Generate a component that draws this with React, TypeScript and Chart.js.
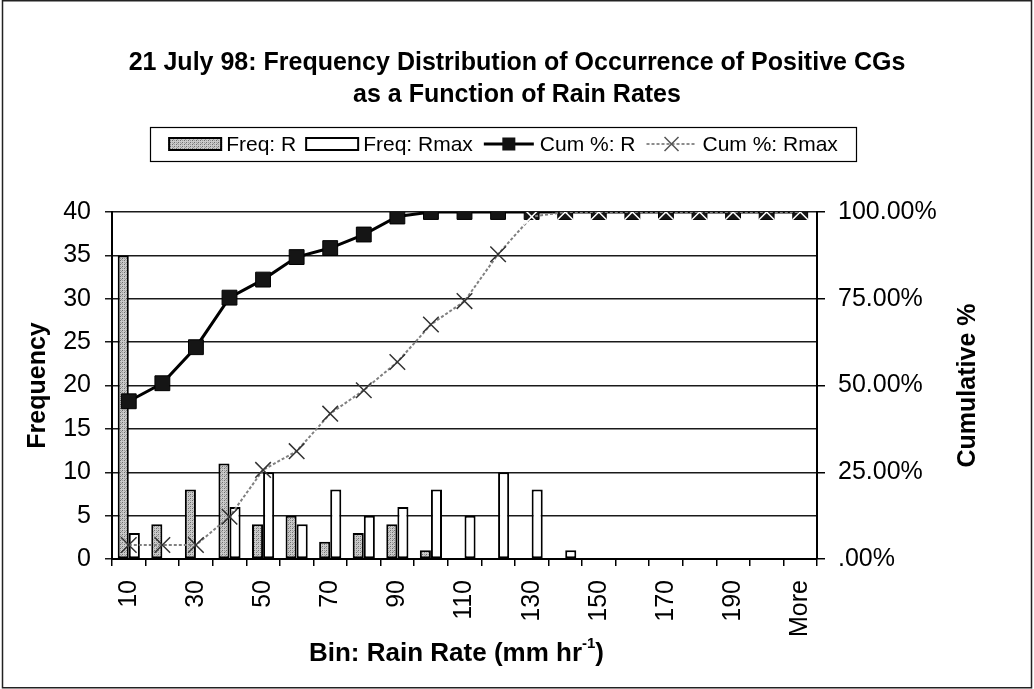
import React, { useEffect, useRef } from 'react';
import { Chart, registerables } from 'chart.js';

Chart.register(...registerables);

// ---------- data ----------
const categories = ['10', '20', '30', '40', '50', '60', '70', '80', '90', '100', '110', '120', '130', '140', '150', '160', '170', '180', '190', '200', 'More'];
const freqR = [35, 4, 8, 11, 4, 5, 2, 3, 4, 1, 0, 0, 0, 0, 0, 0, 0, 0, 0, 0, 0];
const freqRmax = [3, 0, 0, 6, 10, 4, 8, 5, 6, 8, 5, 10, 8, 1, 0, 0, 0, 0, 0, 0, 0];
const cumR = [45.45, 50.65, 61.04, 75.32, 80.52, 87.01, 89.61, 93.51, 98.7, 100, 100, 100, 100, 100, 100, 100, 100, 100, 100, 100, 100];
const cumRmax = [4.05, 4.05, 4.05, 12.16, 25.68, 31.08, 41.89, 48.65, 56.76, 67.57, 74.32, 87.84, 98.65, 100, 100, 100, 100, 100, 100, 100, 100];
const seriesLabels = ['Freq: R', 'Freq: Rmax', 'Cum %: R', 'Cum %: Rmax'];
const titleLines = ['21 July 98: Frequency Distribution of Occurrence of Positive CGs', 'as a Function of Rain Rates'];
const yTitle = 'Frequency';
const y1Title = 'Cumulative %';
const xTitleMain = 'Bin: Rain Rate (mm hr';
const xTitleSup = '-1';
const xTitleEnd = ')';

const FONT = '"Liberation Sans", Arial, Helvetica, sans-serif';
const W = 1034;
const H = 689;

function makePattern(): CanvasPattern | string {
  const c = document.createElement('canvas');
  c.width = 4;
  c.height = 4;
  const g = c.getContext('2d');
  if (!g) return '#b8b8b8';
  g.fillStyle = '#cacaca';
  g.fillRect(0, 0, 4, 4);
  g.fillStyle = '#6e6e6e';
  g.fillRect(0, 0, 1, 1);
  g.fillRect(2, 2, 1, 1);
  g.fillStyle = '#9a9a9a';
  g.fillRect(2, 0, 1, 1);
  g.fillRect(0, 2, 1, 1);
  g.fillRect(1, 3, 1, 1);
  const p = g.createPattern(c, 'repeat');
  return p || '#b8b8b8';
}

function drawSquare(ctx: CanvasRenderingContext2D, x: number, y: number, s: number) {
  ctx.fillStyle = '#111';
  ctx.fillRect(x - s / 2, y - s / 2, s, s);
}

function drawX(ctx: CanvasRenderingContext2D, x: number, y: number, r: number, color: string) {
  ctx.strokeStyle = color;
  ctx.lineWidth = 1.5;
  ctx.beginPath();
  ctx.moveTo(x - r, y - r);
  ctx.lineTo(x + r, y + r);
  ctx.moveTo(x - r, y + r);
  ctx.lineTo(x + r, y - r);
  ctx.stroke();
}

export default function App() {
  const ref = useRef<HTMLCanvasElement | null>(null);

  useEffect(() => {
    const canvas = ref.current;
    if (!canvas) return;
    const pattern = makePattern();

    const decor = {
      id: 'decor',
      beforeDraw(chart: any) {
        const ctx = chart.ctx as CanvasRenderingContext2D;
        ctx.save();
        ctx.fillStyle = '#fff';
        ctx.fillRect(0, 0, W, H);
        ctx.restore();
      },
      afterDraw(chart: any) {
        const ctx = chart.ctx as CanvasRenderingContext2D;
        const area = chart.chartArea;
        ctx.save();
        // outer border
        ctx.strokeStyle = '#222';
        ctx.lineWidth = 1.5;
        ctx.strokeRect(2.5, 0.75, W - 5, H - 2);

        // title
        ctx.fillStyle = '#000';
        ctx.textAlign = 'center';
        ctx.textBaseline = 'middle';
        ctx.font = `bold 25px ${FONT}`;
        ctx.fillText(titleLines[0], W / 2, 63);
        ctx.fillText(titleLines[1], W / 2, 95);

        // legend
        const lx0 = 150, lx1 = 856, ly0 = 127, ly1 = 161;
        const lyc = (ly0 + ly1) / 2;
        ctx.strokeStyle = '#000';
        ctx.lineWidth = 1.2;
        ctx.strokeRect(lx0 + 0.5, ly0 + 0.5, lx1 - lx0, ly1 - ly0);
        ctx.font = `21px ${FONT}`;
        ctx.textAlign = 'left';
        const sw = 54, gapT = 4, gapI = 9;
        let total = 0;
        seriesLabels.forEach((l, i) => {
          total += sw + gapT + ctx.measureText(l).width + (i < 3 ? gapI : 0);
        });
        let x = (lx0 + lx1) / 2 - total / 2;
        seriesLabels.forEach((l, i) => {
          if (i === 0 || i === 1) {
            ctx.fillStyle = i === 0 ? (pattern as any) : '#fff';
            ctx.fillRect(x, lyc - 7, sw, 14);
            ctx.strokeStyle = '#000';
            ctx.lineWidth = 2;
            ctx.strokeRect(x + 1, lyc - 6, sw - 2, 12);
          } else if (i === 2) {
            ctx.strokeStyle = '#000';
            ctx.lineWidth = 3;
            ctx.beginPath();
            ctx.moveTo(x + 2, lyc);
            ctx.lineTo(x + sw - 2, lyc);
            ctx.stroke();
            drawSquare(ctx, x + sw / 2, lyc, 13);
          } else {
            ctx.strokeStyle = '#8c8c8c';
            ctx.lineWidth = 2;
            ctx.setLineDash([3, 2]);
            ctx.beginPath();
            ctx.moveTo(x + 2, lyc);
            ctx.lineTo(x + sw - 2, lyc);
            ctx.stroke();
            ctx.setLineDash([]);
            drawX(ctx, x + sw / 2, lyc, 7, '#555');
          }
          x += sw + gapT;
          ctx.fillStyle = '#000';
          ctx.fillText(l, x, lyc + 1);
          x += ctx.measureText(l).width + gapI;
        });

        // axis titles
        ctx.font = `bold 25px ${FONT}`;
        ctx.textAlign = 'center';
        ctx.textBaseline = 'middle';
        const midY = (area.top + area.bottom) / 2;
        ctx.save();
        ctx.translate(38, midY);
        ctx.rotate(-Math.PI / 2);
        ctx.fillText(yTitle, 0, 0);
        ctx.restore();
        ctx.save();
        ctx.translate(968, midY);
        ctx.rotate(-Math.PI / 2);
        ctx.fillText(y1Title, 0, 0);
        ctx.restore();

        // x title with superscript
        const midX = (area.left + area.right) / 2 - 8;
        const ty = 652;
        ctx.font = `bold 26px ${FONT}`;
        const w1 = ctx.measureText(xTitleMain).width;
        const w3 = ctx.measureText(xTitleEnd).width;
        ctx.font = `bold 15px ${FONT}`;
        const w2 = ctx.measureText(xTitleSup).width;
        let tx = midX - (w1 + w2 + w3) / 2;
        ctx.textAlign = 'left';
        ctx.textBaseline = 'alphabetic';
        ctx.font = `bold 26px ${FONT}`;
        ctx.fillText(xTitleMain, tx, ty + 9);
        tx += w1;
        ctx.font = `bold 15px ${FONT}`;
        ctx.fillText(xTitleSup, tx, ty - 4);
        tx += w2;
        ctx.font = `bold 26px ${FONT}`;
        ctx.fillText(xTitleEnd, tx, ty + 9);

        ctx.restore();
      },
    };

    const tickFont = { family: FONT, size: 25 };

    const chart = new Chart(canvas, {
      type: 'bar',
      data: {
        labels: categories,
        datasets: [
          {
            type: 'line',
            label: seriesLabels[3],
            data: cumRmax,
            yAxisID: 'y1',
            order: 0,
            borderColor: '#808080',
            borderWidth: 2,
            borderDash: [3, 2],
            pointStyle: 'crossRot',
            pointRadius: 11,
            pointBorderWidth: 1.5,
            pointBorderColor: (c: any) => (c.dataIndex >= 12 ? '#ffffff' : '#333'),
            pointBackgroundColor: 'transparent',
            tension: 0,
          } as any,
          {
            type: 'line',
            label: seriesLabels[2],
            data: cumR,
            yAxisID: 'y1',
            order: 1,
            borderColor: '#000',
            borderWidth: 3,
            pointStyle: 'rect',
            pointRadius: 10.5,
            pointBorderWidth: 1,
            pointBorderColor: '#000',
            pointBackgroundColor: '#151515',
            tension: 0,
          } as any,
          {
            type: 'bar',
            label: seriesLabels[0],
            data: freqR,
            yAxisID: 'y',
            order: 2,
            backgroundColor: pattern as any,
            borderColor: '#000',
            borderWidth: 2,
            borderSkipped: false,
            categoryPercentage: 0.66,
            barPercentage: 1,
          } as any,
          {
            type: 'bar',
            label: seriesLabels[1],
            data: freqRmax,
            yAxisID: 'y',
            order: 3,
            backgroundColor: '#fff',
            borderColor: '#000',
            borderWidth: 2,
            borderSkipped: false,
            categoryPercentage: 0.66,
            barPercentage: 1,
          } as any,
        ],
      },
      options: {
        animation: false,
        responsive: false,
        devicePixelRatio: 1,
        layout: { padding: { top: 212, left: 0, right: 0, bottom: 0 } },
        plugins: {
          legend: { display: false },
          title: { display: false },
          tooltip: { enabled: false },
        },
        scales: {
          x: {
            type: 'category',
            offset: true,
            grid: { offset: true, drawOnChartArea: false, drawTicks: true, tickLength: 7, color: '#000', lineWidth: 1.5 },
            border: { display: true, color: '#000', width: 2 },
            ticks: {
              autoSkip: false,
              maxRotation: 90,
              minRotation: 90,
              padding: 14,
              color: '#000',
              font: tickFont,
              callback: (_v: any, i: number) => (i % 2 === 0 ? categories[i] : ''),
            },
            afterFit: (s: any) => {
              s.height = 130;
            },
          },
          y: {
            position: 'left',
            min: 0,
            max: 40,
            ticks: { stepSize: 5, padding: 14, color: '#000', font: tickFont },
            grid: { color: '#1a1a1a', lineWidth: 1.5, tickLength: 7, drawTicks: true },
            border: { display: true, color: '#000', width: 2 },
            afterFit: (s: any) => {
              s.width = 112;
            },
          },
          y1: {
            position: 'right',
            min: 0,
            max: 100,
            ticks: {
              stepSize: 25,
              padding: 13,
              color: '#000',
              font: tickFont,
              callback: (v: any) => (Number(v) === 0 ? '.00%' : Number(v).toFixed(2) + '%'),
            },
            grid: { drawOnChartArea: false, tickLength: 8, color: '#000', lineWidth: 1.5, drawTicks: true },
            border: { display: true, color: '#000', width: 2 },
            afterFit: (s: any) => {
              s.width = W - 817;
            },
          },
        },
      } as any,
      plugins: [decor],
    });

    return () => {
      chart.destroy();
    };
  }, []);

  return (
    <div style={{ position: 'absolute', left: 0, top: 0, width: W, height: H, background: '#fff' }}>
      <canvas ref={ref} width={W} height={H} style={{ display: 'block', width: W, height: H }} />
    </div>
  );
}
